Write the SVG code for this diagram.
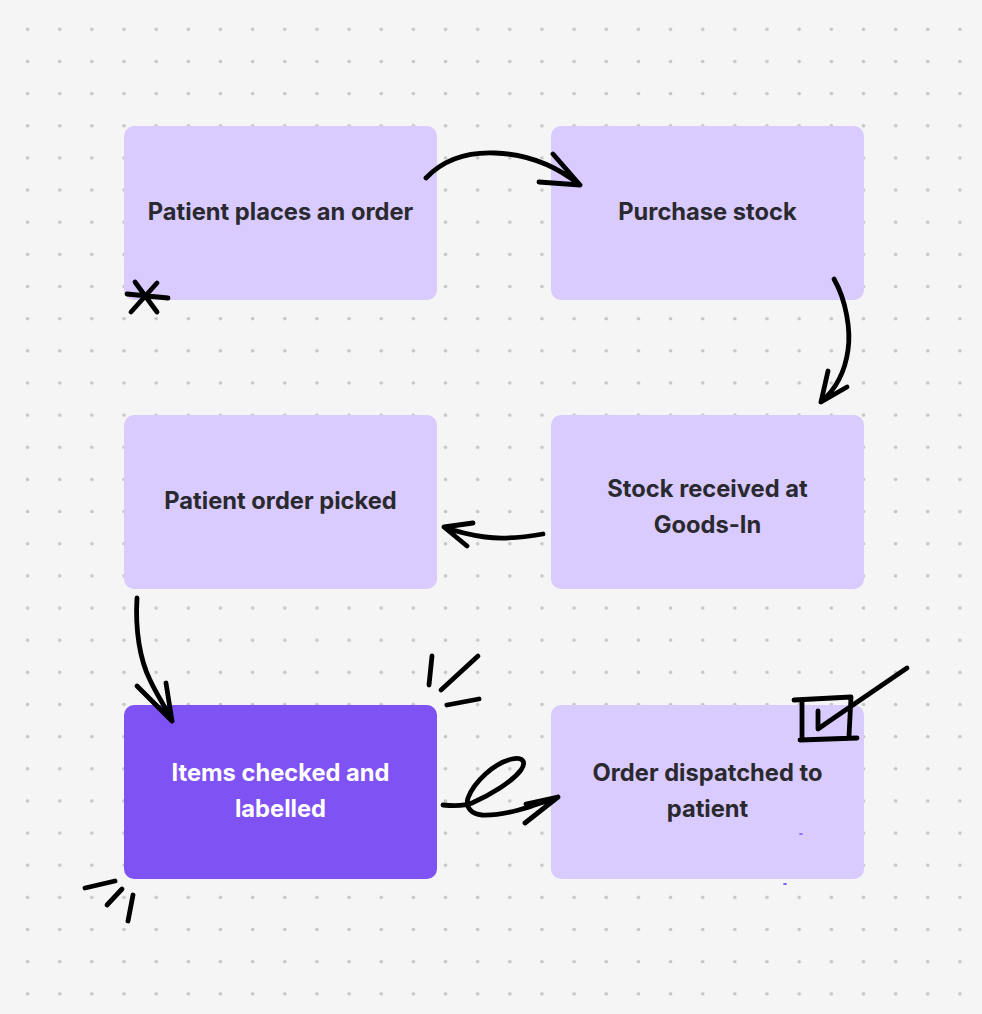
<svg xmlns="http://www.w3.org/2000/svg" width="982" height="1014" viewBox="0 0 982 1014">
<style>
.node{fill:#d9cbfd}
.dark{fill:#7f52f4}
.lbl{font-family:Inter,"Noto Sans","Liberation Sans",sans-serif;font-weight:700;font-size:23.7px;fill:#2a2930;text-anchor:middle}
.lbl.w{fill:#ffffff}
.ink{fill:none;stroke:#000;stroke-width:4.8;stroke-linecap:round;stroke-linejoin:round}
</style>
<defs>
<pattern id="dots" x="11.5" y="13.2" width="32.15" height="32.15" patternUnits="userSpaceOnUse">
<circle cx="16.075" cy="16.075" r="1.8" fill="#c6c6c6"/>
</pattern>
</defs>
<rect width="982" height="1014" fill="#f5f5f5"/>
<rect width="982" height="1014" fill="url(#dots)"/>

<g id="n1"><rect class="node" x="124" y="126" width="313" height="174" rx="10"/><text class="lbl" x="280.5" y="220">Patient places an order</text></g>
<g id="n2"><rect class="node" x="551" y="126" width="313" height="174" rx="10"/><text class="lbl" x="707.5" y="220">Purchase stock</text></g>
<g id="n3"><rect class="node" x="124" y="415" width="313" height="174" rx="10"/><text class="lbl" x="280.5" y="509">Patient order picked</text></g>
<g id="n4"><rect class="node" x="551" y="415" width="313" height="174" rx="10"/><text class="lbl" x="707.5" y="497">Stock received at</text><text class="lbl" x="707.5" y="533">Goods-In</text></g>
<g id="n5"><rect class="dark" x="124" y="705" width="313" height="174" rx="10"/><text class="lbl w" x="280.5" y="781">Items checked and</text><text class="lbl w" x="280.5" y="817">labelled</text></g>
<g id="n6"><rect class="node" x="551" y="705" width="313" height="174" rx="10"/><text class="lbl" x="707.5" y="781">Order dispatched to</text><text class="lbl" x="707.5" y="817">patient</text></g>

<g id="connectors">
<path class="ink" d="M426,178 C445,158 470,152 495,153 C525,154 555,165 580,185 M553,154 L580,185 L539,182"/>
<path class="ink" d="M834,279 C846,300 851,330 848,350 C845,372 835,390 821,402 M828,371 L821,402 L847,387"/>
<path class="ink" d="M543,534 C520,538 500,539 485,537 C470,535 455,531 444,527 M473,523 L444,527 L467,546"/>
<path class="ink" d="M137,598 C135,630 140,660 150,680 C158,697 166,708 172,721 M137,686 L172,721 L166,683"/>
<path class="ink" d="M443,805 C455,806 465,806 472,803 C490,795 512,782 521,770 C527,761 522,757 512,759 C494,763 474,782 468,798 C465,808 472,814 482,815 C505,816 530,807 558,797 M526,804 L558,797 L525,823"/>
</g>

<g id="marks">
<path class="ink" d="M135,282 L157,312 M157,283 L131,312 M127,294 L168,298"/>
<path class="ink" d="M432,656 L429,685 M478,656 L441,690 M447,705 L479,699"/>
<path class="ink" d="M85,888 L115,881 M107,905 L122,889 M133,895 L128,921"/>
<path class="ink" d="M794,700 L851,697 L849,736 M802,700 L802,740 M800,740 L857,738 M818,711 L818,729 L828,722 L907,668"/>
<ellipse cx="801" cy="834" rx="2" ry="1" fill="#8e6cf5"/>
<ellipse cx="785" cy="884" rx="2" ry="1" fill="#6d57f0"/>
</g>
</svg>
